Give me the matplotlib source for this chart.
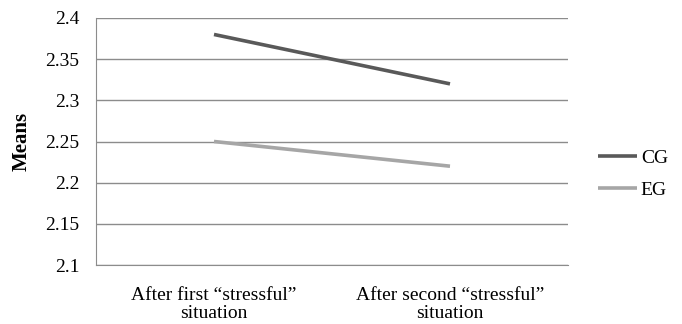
import matplotlib.pyplot as plt

plt.rcParams['font.family'] = ['Liberation Serif', 'DejaVu Serif']

categories = ["After first \u201cstressful\u201d\nsituation", "After second \u201cstressful\u201d\nsituation"]
cg = [2.38, 2.32]
eg = [2.25, 2.22]
yticks = [2.1, 2.15, 2.2, 2.25, 2.3, 2.35, 2.4]
ytick_labels = ["2.1", "2.15", "2.2", "2.25", "2.3", "2.35", "2.4"]

fig = plt.figure(figsize=(6.82, 3.24), dpi=100)
ax = fig.add_axes([96 / 682, 1 - 265 / 324, 472 / 682, 247 / 324])

x = [0.5, 1.5]
ax.plot(x, cg, color="#595959", lw=2.6, label="CG", solid_capstyle="butt")
ax.plot(x, eg, color="#a6a6a6", lw=2.6, label="EG", solid_capstyle="butt")

ax.set_xlim(0, 2)
ax.set_ylim(2.1, 2.4)
ax.set_yticks(yticks)
ax.set_yticklabels(ytick_labels, fontsize=14)
ax.set_xticks(x)
ax.set_xticklabels(categories, fontsize=14, linespacing=1.08)
ax.tick_params(axis="both", length=0, colors="black")
ax.tick_params(axis="y", pad=12)
ax.tick_params(axis="x", pad=16)
ax.grid(axis="y", color="#8c8c8c", lw=1)
ax.set_axisbelow(True)
for s in ["top", "right"]:
    ax.spines[s].set_visible(False)
for s in ["left", "bottom"]:
    ax.spines[s].set_color("#8c8c8c")
ax.set_ylabel("Means", fontsize=15, fontweight="bold", labelpad=10)

ax.legend(loc="center left", bbox_to_anchor=(598 / 682, 1 - 174 / 324),
          bbox_transform=fig.transFigure, frameon=False, borderpad=0,
          borderaxespad=0, fontsize=14, handlelength=2.0, handletextpad=0.2,
          labelspacing=0.75)

fig.savefig("out.png", dpi=100)
